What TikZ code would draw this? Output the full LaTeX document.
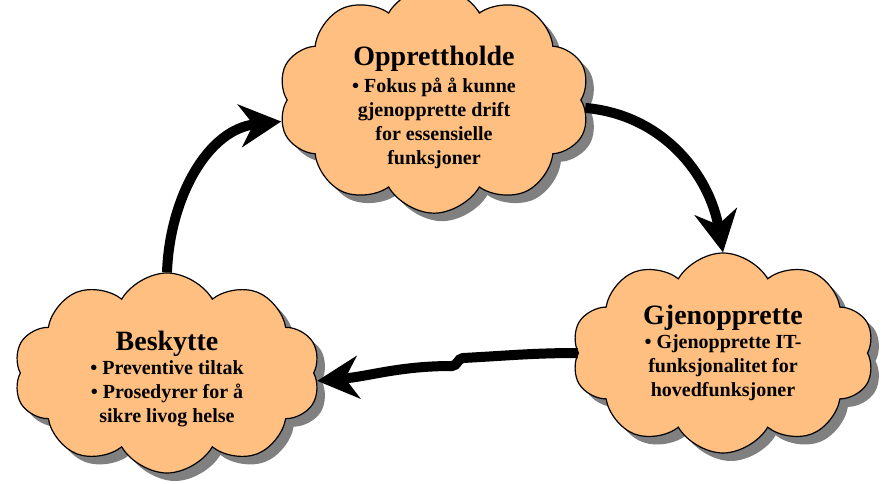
\documentclass[tikz,border=0pt]{standalone}
\usepackage{fontspec}
\setmainfont{Liberation Serif}
\usetikzlibrary{arrows.meta,positioning,shapes.symbols,shadows}
\definecolor{puffOrange}{HTML}{FFBF80}
\definecolor{shadowGray}{HTML}{808080}
\newcommand{\cloudtitle}[2][0pt]{{\fontsize{21}{24}\selectfont\rule{0pt}{#1}#2}}
\tikzset{
  puffcloud/.style={cloud, cloud puffs=10, cloud puff arc=120, cloud ignores aspect, draw=black, line width=0.9pt, fill=puffOrange, inner sep=0pt, align=center, font=\bfseries\fontsize{15}{18}\selectfont, drop shadow={shadow xshift=6pt, shadow yshift=-6pt, fill=shadowGray, opacity=1}},
  cycleflow/.style={-{Stealth[length=31pt, width=32pt, inset=10pt]}, line width=7.5pt}
}
\begin{document}
\begin{tikzpicture}[x=0.75pt, y=0.75pt]
  \useasboundingbox (0,0) rectangle (885,483);
  \node[puffcloud, minimum width=234pt, minimum height=146pt] (hold) at (434,383) {\cloudtitle[26pt]{Opprettholde}\\[2pt] • Fokus på å kunne\\ gjenopprette drift\\ for essensielle\\ funksjoner};
  \node[puffcloud, minimum width=227pt, minimum height=150pt] (gjen) at (723,130) {\cloudtitle{Gjenopprette}\\ • Gjenopprette IT-\\ funksjonalitet for\\ hovedfunksjoner};
  \node[puffcloud, minimum width=230pt, minimum height=150pt] (besk) at (167,110) {\cloudtitle[23pt]{Beskytte}\\ • Preventive tiltak\\ • Prosedyrer for å\\ sikre livog helse};
  % wiggle in the lower arrow
  \coordinate (kinkA) at (463,125);
  \coordinate (kinkB) at (452,117);
  \draw[cycleflow] (besk.north) to[out=88, in=186] (hold.188);
  \draw[cycleflow] (hold.-3) to[out=-5, in=100] (gjen.north);
  \draw[cycleflow] (gjen.west) to[out=180, in=3] (kinkA) to[out=183, in=0] (kinkB) to[out=180, in=5] (besk.-3);
\end{tikzpicture}
\end{document}
